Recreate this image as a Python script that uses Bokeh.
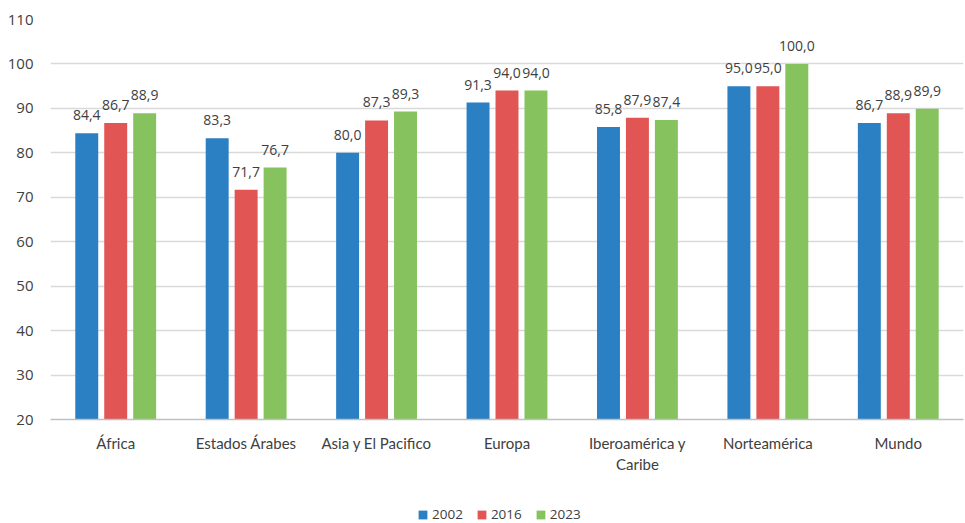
from bokeh.plotting import figure
from bokeh.layouts import column
from bokeh.models import FactorRange, ColumnDataSource, Legend, LegendItem, Range1d, FixedTicker
from bokeh.transform import dodge
from bokeh.core.properties import value
from bokeh.embed import file_html
from bokeh.resources import INLINE

categories = ["África", "Estados Árabes", "Asia y El Pacifico", "Europa",
              "Iberoamérica y\nCaribe", "Norteamérica", "Mundo"]
years = ["2002", "2016", "2023"]
v2002 = [84.4, 83.3, 80.0, 91.3, 85.8, 95.0, 86.7]
v2016 = [86.7, 71.7, 87.3, 94.0, 87.9, 95.0, 88.9]
v2023 = [88.9, 76.7, 89.3, 94.0, 87.4, 100.0, 89.9]
colors = ["#2b7fc3", "#e15554", "#86c35f"]
y_ticks = [20, 30, 40, 50, 60, 70, 80, 90, 100, 110]

NUMFONT = "Open Sans"
CATFONT = "Lato"
TXT = "#404040"

def fmt(v):
    return f"{v:.1f}".replace(".", ",")

src = ColumnDataSource(dict(
    cat=categories,
    v2002=v2002, v2016=v2016, v2023=v2023,
    l2002=[fmt(v) for v in v2002],
    l2016=[fmt(v) for v in v2016],
    l2023=[fmt(v) for v in v2023],
))

p = figure(x_range=FactorRange(factors=categories, range_padding=0.0),
           y_range=Range1d(20, 110),
           width=965, height=480,
           output_backend="svg", toolbar_location=None,
           min_border_left=50, min_border_right=2, min_border_top=19, min_border_bottom=61)

offsets = [-0.222, 0.0, 0.222]
keys = ["2002", "2016", "2023"]
for off, k, c in zip(offsets, keys, colors):
    p.vbar(x=dodge("cat", off, range=p.x_range), top="v" + k, bottom=20,
           width=0.176, color=c, line_color=None, source=src)
    p.text(x=dodge("cat", off, range=p.x_range), y="v" + k, text="l" + k, source=src,
           text_align="center", text_baseline="alphabetic", y_offset=-18,
           text_font=value(NUMFONT), text_font_size="14px", text_color=TXT)

p.outline_line_color = None
p.xgrid.grid_line_color = None
p.ygrid.grid_line_color = "#d9d9d9"
p.ygrid.grid_line_width = 1.3
p.yaxis.ticker = FixedTicker(ticks=y_ticks)
p.yaxis.axis_line_color = None
p.yaxis.major_tick_line_color = None
p.yaxis.minor_tick_line_color = None
p.yaxis.major_label_text_font = NUMFONT
p.yaxis.major_label_text_font_size = "15px"
p.yaxis.major_label_text_color = TXT
p.yaxis.major_label_standoff = 11

p.xaxis.axis_line_color = "#c0c0c0"
p.xaxis.axis_line_width = 1.3
p.xaxis.major_tick_line_color = None
p.xaxis.major_label_text_font = CATFONT
p.xaxis.major_label_text_font_size = "15px"
p.xaxis.major_label_text_color = TXT
p.xaxis.major_label_standoff = 8

# legend strip below the chart (zero-size placeholder bars carry the swatch colours)
lg = figure(width=965, height=43, x_range=Range1d(0, 1), y_range=Range1d(0, 1),
            output_backend="svg", toolbar_location=None,
            min_border_left=0, min_border_right=0, min_border_top=0, min_border_bottom=0)
lg.axis.visible = False
lg.grid.visible = False
lg.outline_line_color = None
items = []
for c, yr in zip(colors, years):
    ph = ColumnDataSource(dict(x=[0.5], top=[0.0], bottom=[0.0]))
    r = lg.vbar(x="x", top="top", bottom="bottom", width=0.0, color=c,
                line_color=None, source=ph)
    items.append(LegendItem(label=yr, renderers=[r]))
legend = Legend(items=items, orientation="horizontal", location=(367, 0),
                glyph_width=11, glyph_height=11, label_text_font=NUMFONT,
                label_text_font_size="13.5px", label_text_color=TXT,
                border_line_color=None, background_fill_alpha=0,
                spacing=13, label_standoff=4, margin=0, padding=2)
lg.add_layout(legend, "center")

layout = column(p, lg, spacing=0)
open("out.html", "w").write(file_html(layout, INLINE))
